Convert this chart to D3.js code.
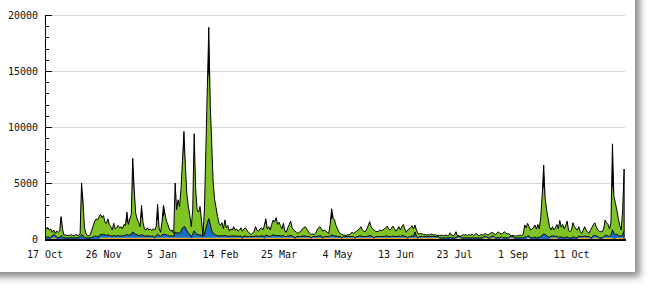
<!DOCTYPE html>
<html>
<head>
<meta charset="utf-8">
<script src="https://cdn.jsdelivr.net/npm/d3@7"></script>
<style>
  body { margin: 0; background: #fff; }
  text { font-family: "DejaVu Sans Mono", monospace; font-size: 10px; fill: #111; }
</style>
</head>
<body>
<svg id="chart" width="651" height="290"></svg>
<script>
// first day of the series, one value per day after that
const startDate = '2007-10-17';
const endDate = '2008-11-17';

const xTickDates = ['2007-10-17', '2007-11-26', '2008-01-05', '2008-02-14', '2008-03-25',
  '2008-05-04', '2008-06-13', '2008-07-23', '2008-09-01', '2008-10-11'];
const yTicks = [0, 5000, 10000, 15000, 20000];
const yMinorTicks = d3.range(0, 20001, 1000);

// top of the green area (orange + blue + green) per day
const totals = [
  1000, 950, 1000, 800, 900, 600, 800, 500, 700, 600,
  700, 1500, 900, 300, 400, 300, 350, 300, 400, 300,
  300, 400, 350, 300, 500, 3800, 3000, 1000, 500, 300,
  300, 400, 800, 1200, 1600, 1800, 1700, 2000, 2200, 1900,
  2100, 1500, 1400, 1800, 1300, 1100, 800, 1400, 900, 1000,
  1200, 1000, 1100, 900, 1300, 1200, 1600, 1300, 1800, 2200,
  5500, 4000, 2300, 1800, 1500, 1100, 2000, 1500, 900, 800,
  1000, 800, 900, 750, 900, 800, 1100, 1800, 1000, 600,
  1500, 2000, 2300, 1600, 1300, 900, 700, 800, 500, 4300,
  2600, 3500, 2900, 4500, 7000, 8200, 6500, 4000, 2900, 2100,
  1100, 2600, 7800, 4500, 2600, 2400, 2900, 1700, 300, 2600,
  8000, 13500, 14900, 12000, 8500, 5000, 3500, 2800, 2000, 1400,
  1200, 1450, 900, 1700, 1000, 1200, 700, 900, 800, 1100,
  800, 900, 700, 800, 1000, 700, 900, 1000, 800, 600,
  500, 400, 500, 700, 1100, 800, 700, 900, 1000, 800,
  1200, 1400, 900, 1100, 800, 1300, 1700, 1500, 1900, 1300,
  1500, 1200, 900, 1400, 700, 600, 1000, 1300, 1600, 1000,
  800, 700, 600, 500, 600, 700, 900, 1000, 1100, 900,
  700, 500, 400, 450, 400, 500, 800, 1000, 1100, 900,
  700, 800, 700, 600, 500, 1300, 1800, 1900, 1700, 1200,
  900, 600, 500, 400, 350, 350, 300, 400, 350, 500,
  600, 500, 600, 700, 800, 900, 1100, 800, 700, 650,
  900, 1200, 1550, 1100, 900, 800, 700, 650, 700, 800,
  750, 800, 900, 1000, 1150, 900, 800, 1000, 1150, 900,
  700, 900, 1100, 800, 1100, 1300, 900, 600, 800, 900,
  1000, 1200, 900, 1250, 800, 500, 450, 500, 450, 400,
  400, 350, 400, 350, 450, 400, 350, 400, 300, 350,
  300, 350, 300, 300, 350, 300, 300, 550, 350, 300,
  350, 650, 300, 300, 250, 300, 400, 350, 400, 300,
  400, 350, 450, 300, 400, 500, 350, 300, 400, 350,
  400, 500, 400, 350, 450, 550, 600, 450, 400, 500,
  650, 500, 450, 500, 650, 550, 450, 500, 350, 300,
  300, 300, 250, 300, 300, 350, 300, 400, 1250, 1000,
  1400, 1100, 800, 900, 1000, 1250, 900, 1300, 900, 2000,
  4000, 4700, 3600, 2600, 1850, 1100, 800, 1100, 800, 1000,
  1300, 900, 1650, 1050, 1300, 900, 1200, 1600, 800, 650,
  800, 1450, 1100, 900, 800, 1100, 650, 500, 800, 1100,
  800, 600, 500, 800, 1050, 1300, 1450, 1050, 800, 700,
  650, 650, 900, 1700, 1450, 1300, 900, 1500, 4800, 3800,
  3200, 2600, 1850, 1200, 800, 2600, 5000
];

const blue = [
  150, 150, 200, 150, 100, 200, 250, 200, 150, 100,
  150, 300, 200, 100, 100, 100, 100, 100, 150, 100,
  100, 100, 100, 150, 200, 400, 300, 150, 100, 100,
  100, 100, 150, 200, 250, 250, 200, 250, 300, 250,
  300, 250, 200, 250, 200, 150, 150, 200, 150, 150,
  200, 150, 150, 150, 200, 200, 300, 200, 250, 300,
  500, 400, 300, 250, 200, 150, 300, 200, 150, 150,
  150, 150, 150, 100, 150, 150, 200, 300, 200, 100,
  250, 300, 300, 250, 200, 150, 150, 150, 100, 500,
  450, 400, 400, 600, 850, 1000, 900, 600, 400, 300,
  200, 300, 600, 400, 300, 250, 250, 200, 100, 300,
  800, 1300, 1700, 1200, 600, 400, 300, 200, 200, 150,
  150, 200, 150, 200, 150, 150, 100, 150, 150, 150,
  150, 150, 100, 150, 150, 100, 150, 150, 100, 100,
  100, 100, 100, 100, 150, 150, 100, 150, 150, 150,
  200, 250, 150, 150, 100, 200, 250, 200, 200, 150,
  200, 150, 150, 200, 100, 100, 150, 150, 200, 150,
  100, 100, 100, 100, 100, 100, 150, 150, 150, 100,
  100, 100, 100, 100, 100, 100, 100, 150, 150, 150,
  100, 100, 100, 100, 100, 150, 250, 200, 150, 150,
  100, 100, 100, 100, 100, 100, 100, 100, 100, 100,
  100, 100, 100, 100, 100, 150, 150, 100, 100, 100,
  100, 150, 200, 150, 100, 100, 100, 100, 100, 100,
  100, 100, 100, 150, 150, 100, 100, 100, 150, 100,
  100, 100, 150, 100, 150, 200, 100, 100, 100, 100,
  100, 150, 100, 500, 150, 100, 100, 100, 100, 100,
  100, 100, 100, 100, 100, 100, 100, 100, 100, 100,
  100, 100, 100, 100, 100, 100, 100, 150, 100, 100,
  100, 150, 100, 100, 100, 100, 100, 100, 100, 100,
  100, 100, 100, 100, 100, 100, 100, 100, 100, 100,
  100, 100, 100, 100, 100, 100, 150, 100, 100, 100,
  150, 100, 100, 100, 150, 100, 100, 100, 100, 100,
  100, 100, 100, 100, 100, 100, 100, 100, 200, 150,
  150, 150, 100, 100, 150, 150, 100, 150, 150, 200,
  350, 450, 400, 300, 200, 150, 150, 150, 150, 100,
  150, 100, 200, 150, 150, 100, 150, 200, 100, 100,
  100, 200, 150, 100, 100, 150, 100, 100, 100, 150,
  100, 100, 100, 100, 150, 200, 200, 150, 100, 100,
  100, 100, 100, 200, 200, 150, 100, 200, 700, 500,
  400, 300, 200, 150, 100, 300, 600
];

const orange = [
  0, 0, 0, 0, 0, 120, 120, 120, 0, 0, 0, 0, 0, 0, 0, 0, 0, 0, 0, 0,
  0, 0, 0, 0, 0, 0, 0, 0, 0, 0, 0, 0, 0, 0, 0, 0, 0, 0, 120, 120,
  120, 120, 120, 120, 120, 120, 120, 120, 120, 120, 120, 120, 120, 120, 120, 120, 120, 120, 120, 120,
  120, 120, 120, 120, 120, 120, 120, 120, 120, 120, 120, 120, 120, 120, 120, 0, 120, 120, 120, 120,
  120, 120, 120, 120, 120, 120, 120, 120, 120, 120, 120, 120, 120, 120, 120, 120, 120, 120, 120, 120,
  0, 120, 120, 120, 120, 120, 120, 120, 120, 120, 120, 120, 120, 120, 120, 120, 120, 120, 120, 120,
  120, 120, 120, 120, 120, 120, 120, 120, 120, 120, 120, 120, 120, 120, 120, 0, 120, 120, 120, 120,
  120, 120, 120, 120, 120, 120, 120, 120, 120, 120, 0, 120, 120, 120, 120, 120, 120, 120, 120, 120,
  120, 120, 120, 120, 120, 120, 120, 120, 120, 120, 120, 0, 120, 120, 120, 120, 120, 120, 120, 120,
  120, 120, 0, 120, 120, 120, 120, 120, 120, 120, 0, 120, 120, 120, 120, 120, 120, 120, 120, 120,
  120, 120, 120, 0, 120, 120, 120, 120, 120, 120, 120, 120, 0, 120, 120, 120, 120, 120, 120, 120,
  120, 120, 120, 120, 120, 0, 120, 120, 120, 120, 120, 120, 120, 120, 120, 120, 120, 120, 120, 120,
  120, 120, 120, 120, 120, 120, 120, 120, 0, 120, 120, 120, 120, 120, 120, 0, 120, 120, 120, 120,
  120, 120, 120, 120, 120, 120, 120, 120, 120, 120, 0, 0, 0, 0, 0, 0, 0, 0, 0, 0,
  0, 0, 120, 120, 120, 0, 0, 0, 0, 0, 0, 0, 0, 0, 0, 0, 0, 0, 0, 0,
  120, 120, 120, 0, 0, 120, 120, 120, 0, 0, 0, 0, 120, 0, 0, 0, 0, 0, 120, 120,
  120, 0, 0, 0, 0, 0, 0, 0, 0, 0, 120, 120, 0, 0, 0, 0, 0, 0, 0, 0,
  0, 0, 0, 0, 0, 0, 120, 120, 120, 120, 120, 0, 0, 0, 0, 0, 0, 0, 0, 0,
  0, 0, 0, 0, 0, 120, 120, 120, 120, 120, 120, 120, 120, 0, 0, 120, 120, 120, 120, 0,
  0, 0, 120, 120, 120, 120, 120, 120, 120, 0, 0, 120, 120, 120, 120, 120, 120
];

// black tips above the green area: [day index, extra value]
const blackTips = [
  [11, 500], [25, 1200], [26, 300], [56, 800], [60, 1700], [61, 400], [66, 1000],
  [77, 1300], [81, 1000], [89, 700], [95, 1400], [102, 1600], [112, 4000],
  [151, 400], [196, 900], [341, 1900], [388, 3700], [396, 1250]
];

const colors = { orange: '#f2a619', blue: '#1a6ec2', green: '#7fc424', black: '#000' };

const svg = d3.select('#chart');

// card with shadow
const defs = svg.append('defs');
defs.append('filter').attr('id', 'shadow')
  .attr('x', '-10%').attr('y', '-10%').attr('width', '130%').attr('height', '130%')
  .append('feDropShadow')
  .attr('dx', 5).attr('dy', 5).attr('stdDeviation', 3.5)
  .attr('flood-color', '#000').attr('flood-opacity', 0.45);

svg.append('rect')
  .attr('x', -20).attr('y', -20)
  .attr('width', 655).attr('height', 292)
  .attr('fill', '#fff')
  .attr('filter', 'url(#shadow)');

const parse = d3.timeParse('%Y-%m-%d');
const start = parse(startDate);

const blackByDay = new Map(blackTips);
const data = totals.map((t, i) => {
  const o = orange[i];
  const b = blue[i];
  return {
    date: d3.timeDay.offset(start, i),
    orange: o,
    blue: b,
    green: Math.max(0, t - o - b),
    black: blackByDay.get(i) || 0,
  };
});

const x = d3.scaleTime()
  .domain([start, parse(endDate)])
  .range([45, 625.6]);

const y = d3.scaleLinear()
  .domain([0, 20000])
  .range([239, 15]);

// grid lines
svg.append('g')
  .selectAll('line')
  .data(yTicks.filter((d) => d > 0))
  .enter()
  .append('line')
  .attr('x1', 45).attr('x2', 625)
  .attr('y1', (d) => Math.round(y(d)) + 0.5)
  .attr('y2', (d) => Math.round(y(d)) + 0.5)
  .attr('stroke', '#d6d6d6');

// stacked areas
const keys = ['orange', 'blue', 'green', 'black'];
const series = d3.stack().keys(keys)(data);

const area = d3.area()
  .x((d) => x(d.data.date))
  .y0((d) => y(d[0]))
  .y1((d) => y(d[1]));

svg.append('g')
  .selectAll('path')
  .data(series)
  .enter()
  .append('path')
  .attr('d', area)
  .attr('fill', (d) => colors[d.key]);

// black outlines on top of the blue layer and of the whole stack
const topLine = d3.line()
  .x((d) => x(d.data.date))
  .y((d) => y(d[1]));

svg.append('g')
  .selectAll('path')
  .data([series[1], series[3]])
  .enter()
  .append('path')
  .attr('d', topLine)
  .attr('fill', 'none')
  .attr('stroke', '#000')
  .attr('stroke-width', 1);

// right edge of the last day
const last = series[3][series[3].length - 1];
svg.append('line')
  .attr('x1', x(last.data.date)).attr('x2', x(last.data.date))
  .attr('y1', y(last[1])).attr('y2', y(0))
  .attr('stroke', '#000');

// y axis
svg.append('line')
  .attr('x1', 45.5).attr('x2', 45.5)
  .attr('y1', 15).attr('y2', 241)
  .attr('stroke', '#000');

svg.append('g')
  .selectAll('line')
  .data(yMinorTicks)
  .enter()
  .append('line')
  .attr('x1', 45)
  .attr('x2', (d) => (d % 5000 === 0 ? 52 : 49))
  .attr('y1', (d) => Math.round(y(d)) + 0.5)
  .attr('y2', (d) => Math.round(y(d)) + 0.5)
  .attr('stroke', '#000');

svg.append('g')
  .selectAll('text')
  .data(yTicks)
  .enter()
  .append('text')
  .attr('x', 38)
  .attr('y', (d) => y(d) + 4)
  .attr('text-anchor', 'end')
  .text((d) => d);

// x axis
svg.append('line')
  .attr('x1', 45).attr('x2', 626)
  .attr('y1', 240).attr('y2', 240)
  .attr('stroke', '#000')
  .attr('stroke-width', 2);

const fmt = d3.timeFormat('%-d %b');
svg.append('g')
  .selectAll('text')
  .data(xTickDates.map(parse))
  .enter()
  .append('text')
  .attr('x', (d) => x(d))
  .attr('y', 258)
  .attr('text-anchor', 'middle')
  .text((d) => fmt(d));
</script>
</body>
</html>
